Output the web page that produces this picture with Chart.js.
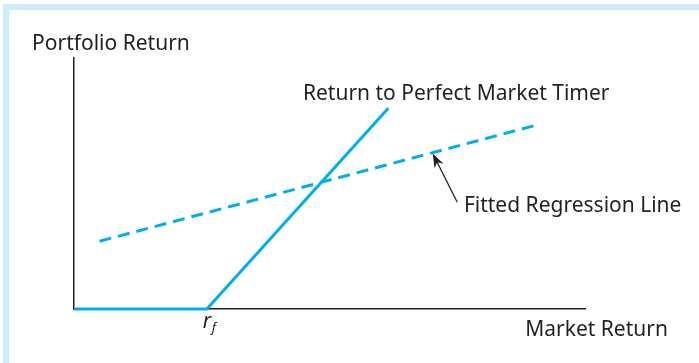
<!DOCTYPE html>
<html>
<head>
<meta charset="utf-8">
<script src="https://cdn.jsdelivr.net/npm/chart.js@4"></script>
<style>
  html, body { margin: 0; padding: 0; background: #fff; }
  #wrap { position: relative; width: 699px; height: 363px; }
  #frame { position: absolute; left: 3px; top: 4px; right: 0; bottom: 0;
           border-top: 6px solid #cdebf8; border-left: 6px solid #cdebf8; }
  canvas { position: absolute; left: 0; top: 0; }
</style>
</head>
<body>
<div id="wrap">
  <div id="frame"></div>
  <canvas id="chart" width="699" height="363"></canvas>
</div>
<script>
// market return (x) / portfolio return (y), arbitrary units 0..10
var timerX = [0, 2.6, 6.15];
var timerY = [0, 0, 8];
var fitX = [0.5, 9.0];
var fitY = [2.7, 7.3];
var arrowFrom = [7.5, 4.25];
var arrowTo = [7.02, 6.2];

var ink = '#231f20';
var blue = '#00aeef';

function pts(xs, ys) {
  return xs.map(function(x, i){ return {x: x, y: ys[i]}; });
}

// text labels: [text, x(data), y baseline(data), font size]
var labels = [
  ['Portfolio Return', -0.82, 10.3, 21],
  ['Return to Perfect Market Timer', 4.48, 8.32, 21],
  ['Fitted Regression Line', 7.63, 3.85, 21],
  ['Market Return', 8.83, -1.08, 21]
];

var annot = {
  id: 'annot',
  afterDatasetsDraw: function(chart) {
    var ctx = chart.ctx, xs = chart.scales.x, ys = chart.scales.y;
    ctx.save();
    ctx.fillStyle = ink;
    ctx.textBaseline = 'alphabetic';
    ctx.textAlign = 'left';
    labels.forEach(function(l){
      ctx.font = l[3] + 'px "Noto Sans", "Open Sans", sans-serif';
      ctx.fillText(l[0], xs.getPixelForValue(l[1]), ys.getPixelForValue(l[2]));
    });
    // r_f under the kink
    var rx = xs.getPixelForValue(timerX[1]) - 4;
    var ry = ys.getPixelForValue(0) + 19;
    ctx.font = 'italic 21px "Noto Sans", sans-serif';
    ctx.fillText('r', rx, ry);
    ctx.font = 'italic 13px "Noto Sans", sans-serif';
    ctx.fillText('f', rx + 9, ry + 4);

    // arrow
    var x1 = xs.getPixelForValue(arrowFrom[0]), y1 = ys.getPixelForValue(arrowFrom[1]);
    var x2 = xs.getPixelForValue(arrowTo[0]), y2 = ys.getPixelForValue(arrowTo[1]);
    var a = Math.atan2(y2 - y1, x2 - x1);
    ctx.strokeStyle = ink;
    ctx.lineWidth = 1.3;
    ctx.beginPath();
    ctx.moveTo(x1, y1);
    ctx.lineTo(x2 - 8 * Math.cos(a), y2 - 8 * Math.sin(a));
    ctx.stroke();
    ctx.beginPath();
    ctx.moveTo(x2, y2);
    ctx.lineTo(x2 - 14 * Math.cos(a) + 5 * Math.sin(a), y2 - 14 * Math.sin(a) - 5 * Math.cos(a));
    ctx.lineTo(x2 - 10 * Math.cos(a), y2 - 10 * Math.sin(a));
    ctx.lineTo(x2 - 14 * Math.cos(a) - 5 * Math.sin(a), y2 - 14 * Math.sin(a) + 5 * Math.cos(a));
    ctx.closePath();
    ctx.fillStyle = ink;
    ctx.fill();
    ctx.restore();
  }
};

new Chart(document.getElementById('chart').getContext('2d'), {
  type: 'scatter',
  data: {
    datasets: [{
      label: 'Return to Perfect Market Timer',
      data: pts(timerX, timerY),
      showLine: true,
      borderColor: blue,
      borderWidth: 3,
      pointRadius: 0,
      clip: false
    }, {
      label: 'Fitted Regression Line',
      data: pts(fitX, fitY),
      showLine: true,
      borderColor: blue,
      borderWidth: 3,
      borderDash: [12, 7],
      pointRadius: 0,
      clip: false
    }]
  },
  options: {
    responsive: false,
    animation: false,
    layout: { padding: { left: 66, top: 58, right: 114, bottom: 46 } },
    plugins: { legend: { display: false }, tooltip: { enabled: false } },
    scales: {
      x: { type: 'linear', min: 0, max: 10,
           ticks: { display: false }, grid: { display: false },
           border: { display: true, color: ink, width: 1.5 } },
      y: { type: 'linear', min: 0, max: 10,
           ticks: { display: false }, grid: { display: false },
           border: { display: true, color: ink, width: 1.5 } }
    }
  },
  plugins: [annot]
});
</script>
</body>
</html>
